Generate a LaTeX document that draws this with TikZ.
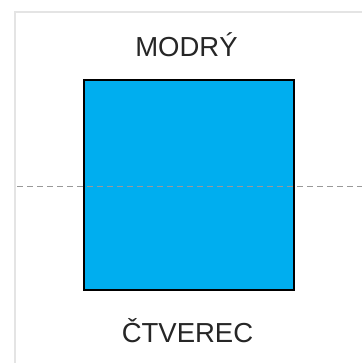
\documentclass[tikz,border=0pt]{standalone}
\usepackage{fontspec}
\setmainfont{Liberation Sans}
\definecolor{sqblue}{HTML}{00AEEF}
\definecolor{framegray}{HTML}{E4E4E4}
\definecolor{dashgray}{HTML}{999999}
\begin{document}
\begin{tikzpicture}[x=1pt,y=-1pt,
  label/.style={font=\fontsize{27.5}{30}\selectfont, text=black!85, inner sep=0pt, anchor=base},
  sq/.style={fill=sqblue, minimum width=209pt, minimum height=209pt, inner sep=0pt},
  frame/.style={draw=framegray, line width=2pt},
  guide/.style={draw=dashgray, line width=1.8pt, dash pattern=on 6pt off 4pt}]
\useasboundingbox (0,0) rectangle (362,363);
\fill[white] (0,0) rectangle (362,363);
\coordinate (fb) at (14.5,363);
\coordinate (fc) at (14.5,12.5);
\coordinate (fr) at (362,12.5);
\draw[frame] (fb) -- (fc) -- (fr);
\node[sq] (square) at (189,185) {};
\coordinate (gl) at (17,186.5);
\coordinate (gr) at (362,186.5);
\draw[guide] (gl) -- (gr);
\draw[black, line width=2pt] (square.north west) rectangle (square.south east);
\node[label] (top) at (186.5,57) {MODRÝ};
\node[label] (bottom) at (187.5,342) {ČTVEREC};
\end{tikzpicture}
\end{document}
